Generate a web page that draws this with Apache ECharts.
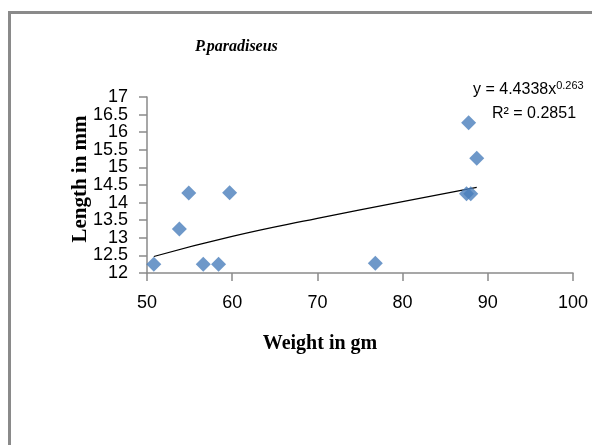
<!DOCTYPE html>
<html>
<head>
<meta charset="utf-8">
<script src="https://cdn.jsdelivr.net/npm/echarts@6/dist/echarts.min.js"></script>
<style>
  html, body { margin: 0; padding: 0; background: #fff; }
  #frame { position: absolute; left: 8px; top: 11px; width: 700px; height: 600px; border: 3px solid #8a8a8a; box-sizing: border-box; }
  #chart { position: absolute; left: 0; top: 0; width: 592px; height: 445px; }
</style>
</head>
<body>
<div id="frame"></div>
<div id="chart"></div>
<script>
// weight (gm) vs length (mm)
const weights = [50.8, 53.8, 54.9, 56.6, 58.4, 59.7, 76.8, 87.5, 88.0, 87.75, 88.7]
const lengths = [12.25, 13.25, 14.27, 12.25, 12.25, 14.28, 12.28, 14.25, 14.25, 16.27, 15.26]

// power trendline
const trendX = [50.8, 60, 70, 80, 88.7]
const trendY = [12.47, 13.04, 13.55, 14.03, 14.43]

const xTicks = [50, 60, 70, 80, 90, 100]
const yTicks = [12, 12.5, 13, 13.5, 14, 14.5, 15, 15.5, 16, 16.5, 17]

const tickFont = "'Liberation Sans', Arial, sans-serif"
const serif = "'Liberation Serif', 'DejaVu Serif', serif"

const yMin = yTicks[0]
const yMax = yTicks[yTicks.length - 1]
const yLabel = { margin: 19, fontFamily: tickFont, fontSize: 18, color: '#000', showMinLabel: true, showMaxLabel: true }

const chart = echarts.init(document.getElementById('chart'))

chart.setOption({
  animation: false,
  title: {
    text: 'P.paradiseus',
    left: 190,
    top: 34,
    textStyle: { fontFamily: serif, fontStyle: 'italic', fontWeight: 'bold', fontSize: 16, color: '#000' },
  },
  grid: { left: 147, right: 19, top: 97, bottom: 172 },
  xAxis: {
    type: 'value',
    min: xTicks[0],
    max: xTicks[xTicks.length - 1],
    interval: 10,
    axisLine: { lineStyle: { color: '#8a8a8a', width: 1.5 } },
    axisTick: { length: 8, lineStyle: { color: '#8a8a8a', width: 1.5 } },
    axisLabel: { margin: 21, fontFamily: tickFont, fontSize: 18, color: '#000' },
    splitLine: { show: false },
  },
  yAxis: [
    {
      // half-step ticks; labels only on the .5 values
      type: 'value',
      min: yMin,
      max: yMax,
      interval: 0.5,
      axisLine: { show: true, lineStyle: { color: '#8a8a8a', width: 1.5 } },
      axisTick: { show: true, length: 8, lineStyle: { color: '#8a8a8a', width: 1.5 } },
      axisLabel: { ...yLabel, formatter: v => (v % 1 === 0 ? '' : String(v)) },
      splitLine: { show: false },
    },
    {
      // whole-number labels, same scale and position
      type: 'value',
      position: 'left',
      min: yMin,
      max: yMax,
      interval: 1,
      axisLine: { show: false },
      axisTick: { show: false },
      axisLabel: yLabel,
      splitLine: { show: false },
    },
  ],
  graphic: [
    {
      type: 'text',
      x: 320,
      y: 344,
      style: {
        text: 'Weight in gm',
        fontFamily: serif, fontWeight: 'bold', fontSize: 20, fill: '#000',
        align: 'center', verticalAlign: 'middle',
      },
    },
    {
      type: 'text',
      x: 81,
      y: 179,
      rotation: Math.PI / 2,
      style: {
        text: 'Length in mm',
        fontFamily: serif, fontWeight: 'bold', fontSize: 21, fill: '#000',
        align: 'center', verticalAlign: 'middle',
      },
    },
    {
      type: 'text',
      left: 473,
      top: 80,
      style: {
        text: '{b|y = 4.4338x}{s|0.263}',
        rich: {
          b: { fontFamily: tickFont, fontSize: 16, fill: '#000' },
          s: { fontFamily: tickFont, fontSize: 11, fill: '#000', padding: [0, 0, 8, 0] },
        },
      },
    },
    {
      type: 'text',
      left: 492,
      top: 106,
      style: { text: 'R² = 0.2851', fontFamily: tickFont, fontSize: 16, fill: '#000' },
    },
  ],
  series: [
    {
      type: 'line',
      data: trendX.map((x, i) => [x, trendY[i]]),
      smooth: true,
      symbol: 'none',
      lineStyle: { color: '#000', width: 1.2 },
      z: 1,
    },
    {
      type: 'scatter',
      data: weights.map((w, i) => [w, lengths[i]]),
      symbol: 'diamond',
      symbolSize: 15,
      itemStyle: { color: '#4a7ebb' },
      z: 2,
    },
  ],
})
</script>
</body>
</html>
